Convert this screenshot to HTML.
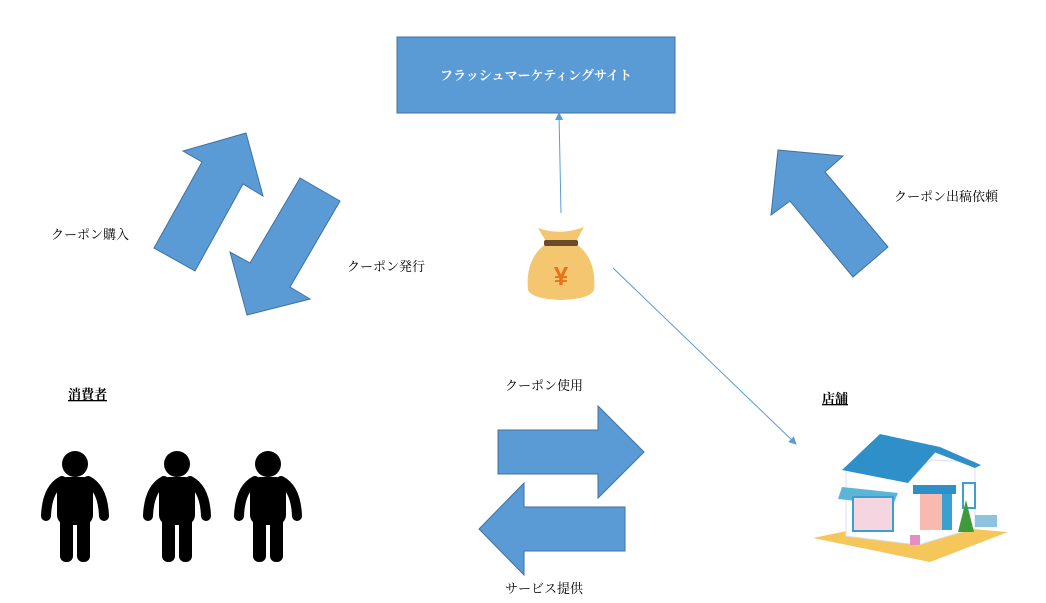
<!DOCTYPE html>
<html><head><meta charset="utf-8"><style>
body{margin:0;background:#fff;}
svg{display:block;}
text{font-family:"Liberation Serif","Noto Serif CJK SC",serif;font-size:13px;fill:#000;}
</style></head><body>
<svg width="1046" height="603" viewBox="0 0 1046 603" xmlns="http://www.w3.org/2000/svg">
<defs>
<marker id="ah" markerWidth="8" markerHeight="8" refX="7" refY="4" orient="auto" markerUnits="userSpaceOnUse"><path d="M0,0 L8,4 L0,8 Z" fill="#5b9bd5"/></marker>
<g id="p">
<circle cx="0" cy="0" r="13" fill="#000"/>
<path d="M-13,17 Q-28,25 -29,52 M13,17 Q28,25 29,52" stroke="#000" stroke-width="10" stroke-linecap="round" fill="none"/>
<rect x="-18" y="13" width="36" height="48" rx="10" fill="#000"/>
<rect x="-15" y="45" width="13" height="53" rx="6" fill="#000"/>
<rect x="2" y="45" width="13" height="53" rx="6" fill="#000"/>
</g>
</defs>
<rect x="397" y="37" width="278" height="76" fill="#5b9bd5" stroke="#41719c" stroke-width="1"/>
<text x="536" y="80" text-anchor="middle" font-weight="bold" style="fill:#fff">フラッシュマーケティングサイト</text>
<g fill="#5b9bd5" stroke="#41719c" stroke-width="1">
<polygon points="246,133 263,196 243,184 195,271 154,248 202,162 183,151"/>
<polygon points="247,315 230,252 250,263 300,178 340,201 290,287 310,299"/>
<polygon points="778,150 843,156 825,172 888,247 853,277 790,201 771,215"/>
<polygon points="498,430 598,430 598,406 644,452 598,498 598,474 498,474"/>
<polygon points="625,507 524,507 524,483 479,529 524,575 524,551 625,551"/>
</g>
<line x1="561" y1="213" x2="559" y2="113" stroke="#5b9bd5" stroke-width="1" marker-end="url(#ah)"/>
<line x1="613" y1="268" x2="796" y2="444" stroke="#5b9bd5" stroke-width="1" marker-end="url(#ah)"/>
<text x="51" y="239">クーポン購入</text>
<text x="347" y="271">クーポン発行</text>
<text x="894" y="201">クーポン出稿依頼</text>
<text x="505" y="390">クーポン使用</text>
<text x="505" y="593">サービス提供</text>
<text x="68" y="399" font-weight="bold" text-decoration="underline">消費者</text>
<text x="822" y="403" font-weight="bold" text-decoration="underline">店舗</text>
<!-- money bag -->
<g>
<path d="M538,228 Q560,236 584,227 L575,243 Q597,258 594,290 Q590,299 561,300 Q532,299 528,290 Q525,258 547,243 Z" fill="#f3c66f"/>
<rect x="544" y="240" width="34" height="6" rx="2" fill="#6b4a2a"/>
<text x="561" y="285" text-anchor="middle" font-weight="bold" style="font-size:26px;fill:#e8731b;font-family:'Liberation Sans',sans-serif">¥</text>
</g>
<use href="#p" x="75" y="464"/>
<use href="#p" x="177" y="464"/>
<use href="#p" x="268" y="464"/>
<!-- store -->
<g>
<polygon points="813,538 890,522 1008,532 930,562" fill="#f5c75a"/>
<polygon points="846,470 900,478 932,460 975,462 975,528 918,545 846,536" fill="#fff" stroke="#dde" stroke-width="1"/>
<polygon points="842,470 880,434 940,447 908,483" fill="#2f8fc8"/>
<polygon points="940,447 981,465 975,468 934,452" fill="#2f8fc8"/>
<polygon points="842,487 898,493 893,505 838,499" fill="#5ab5d8"/>
<rect x="853" y="497" width="40" height="34" fill="#f5d6e0" stroke="#3aa0cf" stroke-width="2"/>
<rect x="913" y="485" width="43" height="9" fill="#2f8fc8"/>
<rect x="920" y="494" width="22" height="36" fill="#f7b9b0"/>
<rect x="942" y="494" width="10" height="36" fill="#3aa0cf"/>
<rect x="963" y="483" width="12" height="25" fill="#fff" stroke="#3aa0cf" stroke-width="2"/>
<polygon points="958,532 966,500 974,532" fill="#3e9a3a"/>
<rect x="975" y="515" width="22" height="12" fill="#8ec3e0"/>
<rect x="910" y="535" width="10" height="10" fill="#e58ec0"/>
</g>
</svg>
</body></html>
